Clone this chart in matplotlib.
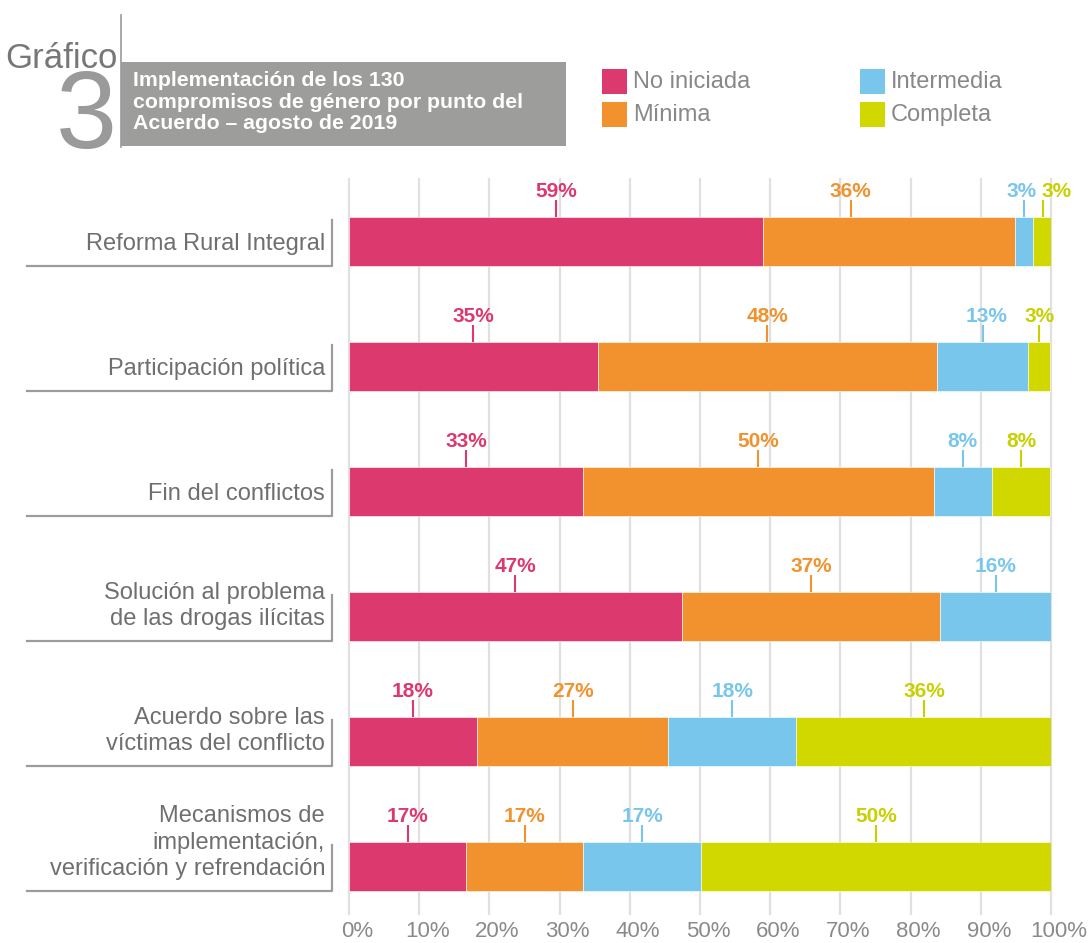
import matplotlib
matplotlib.use("Agg")
import matplotlib.pyplot as plt
from matplotlib.patches import Rectangle
from matplotlib.lines import Line2D
from matplotlib.transforms import blended_transform_factory, ScaledTranslation

plt.rcParams['font.family'] = ['Liberation Sans', 'DejaVu Sans']

# Data (share of commitments per point of the Agreement, %)
categories = [
    "Reforma Rural Integral",
    "Participación política",
    "Fin del conflictos",
    "Solución al problema\nde las drogas ilícitas",
    "Acuerdo sobre las\nvíctimas del conflicto",
    "Mecanismos de\nimplementación,\nverificación y refrendación",
]
no_iniciada = [59.0, 35.4, 33.3, 47.4, 18.2, 16.7]
minima = [35.9, 48.4, 50.0, 36.8, 27.3, 16.7]
intermedia = [2.6, 12.9, 8.3, 15.8, 18.2, 16.7]
completa = [2.6, 3.2, 8.3, 0.0, 36.4, 50.0]
series_names = ["No iniciada", "Mínima", "Intermedia", "Completa"]
xticks = list(range(0, 101, 10))

colors = ["#dc3a6e", "#f2922e", "#79c6ec", "#d0d800"]
label_colors = ["#dc3a6e", "#f2922e", "#79c6ec", "#c8d000"]
# manual nudges (in % units) as in the original layout
tick_nudge = {(0, 1): -5.5}
text_nudge = {(0, 2): -0.4, (0, 3): 2.0, (1, 1): 0.0, (1, 2): 0.5}

W, H = 1091, 943
fig = plt.figure(figsize=(W / 100, H / 100), dpi=100)

def fx(x):
    return x / W

def fy(y):
    return 1 - y / H

ax = fig.add_axes([fx(349), fy(915), 702 / W, (915 - 178) / H])
ax.set_xlim(0, 100)
ax.set_ylim(5.388, -0.508)
for s in ax.spines.values():
    s.set_visible(False)
ax.set_yticks([])
ax.set_xticks(xticks)
ax.set_xticklabels([f"{t}%" for t in xticks], fontsize=16, color="#8a8a8a")
ax.tick_params(axis="x", length=0, pad=4)
shift = ScaledTranslation(8 / 100, 0, fig.dpi_scale_trans)
for lbl in ax.get_xticklabels():
    lbl.set_transform(lbl.get_transform() + shift)
ax.vlines(xticks, 5.388, -0.508, color="#e0e0e0", lw=1.6, zorder=0, clip_on=False)

bar_h = 0.392
series = [no_iniciada, minima, intermedia, completa]
rows = list(range(len(categories)))
left = [0.0] * len(rows)
for k, vals in enumerate(series):
    ax.barh(rows, vals, left=left, height=bar_h, color=colors[k],
            edgecolor="white", linewidth=0.4, zorder=2)
    for i, v in enumerate(vals):
        if v <= 0:
            continue
        cx = left[i] + v / 2 + tick_nudge.get((i, k), 0)
        top = i - bar_h / 2
        ax.plot([cx, cx], [top, top - 0.136], color=label_colors[k], lw=1.5,
                zorder=3, solid_capstyle="butt")
        ax.text(cx + text_nudge.get((i, k), 0), top - 0.128, f"{round(v)}%",
                ha="center", va="bottom", fontsize=15, fontweight="bold",
                color=label_colors[k])
    left = [l + v for l, v in zip(left, vals)]

# category labels with bracket lines
tr = blended_transform_factory(fig.transFigure, ax.transData)
for i, name in enumerate(categories):
    fig.text(fx(325), i + 0.11, name, transform=tr, ha="right", va="bottom",
             fontsize=17, color="#6f6f6f", linespacing=1.26)
    top = i - bar_h / 2 + 0.02
    bot = i + bar_h / 2
    fig.add_artist(Line2D([fx(27), fx(332), fx(332)], [bot, bot, top],
                          transform=tr, color="#9c9c9c", lw=1.6))

# header
fig.text(fx(118), fy(68), "Gráfico", ha="right", va="baseline",
         fontsize=25, color="#777777")
fig.text(fx(117), fy(148), "3", ha="right", va="baseline",
         fontsize=79, color="#9a9a9a")
fig.add_artist(Line2D([fx(121), fx(121)], [fy(15), fy(147)],
                      color="#9a9a9a", lw=1.2))
fig.add_artist(Rectangle((fx(121), fy(146)), (566 - 121) / W, (146 - 62) / H,
                         transform=fig.transFigure, color="#9d9d9c", lw=0))
fig.text(fx(133), fy(102), "Implementación de los 130\ncompromisos de género por punto del\nAcuerdo – agosto de 2019",
         ha="left", va="center", fontsize=15.3, fontweight="bold",
         color="white", linespacing=1.19)

# legend
legend_pos = [(602, 69), (602, 102), (860, 69), (860, 102)]
for k, (lx, ly) in enumerate(legend_pos):
    fig.add_artist(Rectangle((fx(lx), fy(ly + 25)), 25 / W, 25 / H,
                             transform=fig.transFigure, color=colors[k], lw=0))
    fig.text(fx(lx + 31), fy(ly + 13), series_names[k], ha="left", va="center",
             fontsize=17, color="#888888")

fig.savefig("out.png", dpi=100)
